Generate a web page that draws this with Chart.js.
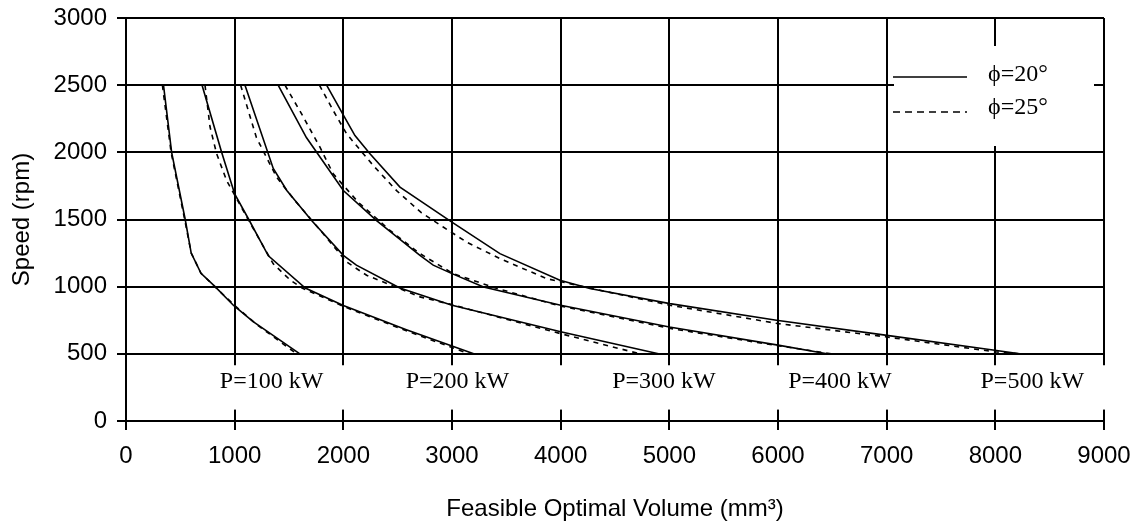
<!DOCTYPE html>
<html>
<head>
<meta charset="utf-8">
<script src="https://cdn.jsdelivr.net/npm/chart.js@4.4.1/dist/chart.umd.min.js"></script>
<style>
  html, body { margin: 0; padding: 0; background: #fff; }
  #wrap { width: 1142px; height: 531px; }
</style>
</head>
<body>
<div id="wrap"><canvas id="speedChart"></canvas></div>
<script>
// Feasible optimal volume (mm^3) vs speed (rpm)
const vol100Phi20 = [345, 420, 545, 600, 690, 820, 990, 1170, 1600];
const spd100Phi20 = [2500, 2000, 1500, 1250, 1100, 1000, 860, 740, 500];
const vol100Phi25 = [335, 415, 540, 600, 690, 830, 1000, 1200, 1570];
const spd100Phi25 = [2500, 2000, 1500, 1250, 1100, 990, 860, 720, 500];

const vol200Phi20 = [700, 880, 1000, 1130, 1310, 1650, 2000, 2580, 3200];
const spd200Phi20 = [2500, 2000, 1690, 1500, 1230, 990, 860, 680, 500];
const vol200Phi25 = [727, 773, 834, 926, 1110, 1355, 1510, 1620, 2010, 2600, 3160];
const spd200Phi25 = [2500, 2190, 1990, 1790, 1520, 1170, 1050, 990, 850, 665, 500];

const vol300Phi20 = [1095, 1355, 1480, 1710, 2000, 2120, 2520, 3000, 4000, 4900];
const spd300Phi20 = [2500, 1880, 1716, 1490, 1233, 1160, 990, 862, 664, 500];
const vol300Phi25 = [1055, 1200, 1386, 1540, 1815, 2030, 2214, 2705, 2980, 4000, 4730];
const spd300Phi25 = [2500, 2110, 1815, 1655, 1394, 1184, 1085, 924, 870, 650, 500];

const vol400Phi20 = [1400, 1660, 2000, 2306, 2705, 2827, 3000, 3290, 4000, 5000, 6000, 6450];
const spd400Phi20 = [2500, 2110, 1716, 1491, 1233, 1160, 1097, 998, 862, 700, 565, 500];
const vol400Phi25 = [1463, 1616, 1785, 1907, 2137, 2429, 2705, 3011, 3400, 4000, 5000, 6000, 6490];
const spd400Phi25 = [2500, 2286, 2038, 1840, 1629, 1419, 1246, 1097, 990, 855, 690, 560, 500];

const vol500Phi20 = [1846, 2003, 2107, 2245, 2521, 2999, 3441, 3993, 4269, 5005, 5986, 6986, 7995, 8225];
const spd500Phi20 = [2500, 2273, 2125, 1989, 1741, 1481, 1246, 1048, 986, 874, 750, 639, 527, 500];
const vol500Phi25 = [1780, 1907, 2030, 2275, 2490, 2720, 2919, 3134, 3441, 3870, 4361, 5005, 5995, 6986, 7995, 8225];
const spd500Phi25 = [2500, 2311, 2138, 1902, 1715, 1549, 1444, 1332, 1209, 1060, 973, 862, 726, 627, 515, 500];

const seriesNames = ["\u03D5=20\u00B0", "\u03D5=25\u00B0"];
const powerLabels = ["P=100 kW", "P=200 kW", "P=300 kW", "P=400 kW", "P=500 kW"];
const powerLabelVol = [1340, 3050, 4950, 6570, 8340];
const powerLabelSpeed = 290;

const sansFont = "'Liberation Sans', Arial, sans-serif";
const serifFont = "'Liberation Serif', 'Times New Roman', serif";
const dashPattern = [5, 5];

const toPoints = (xs, ys) => xs.map((x, i) => ({ x: x, y: ys[i] }));

const curves = [
  [vol100Phi20, spd100Phi20, 0], [vol100Phi25, spd100Phi25, 1],
  [vol200Phi20, spd200Phi20, 0], [vol200Phi25, spd200Phi25, 1],
  [vol300Phi20, spd300Phi20, 0], [vol300Phi25, spd300Phi25, 1],
  [vol400Phi20, spd400Phi20, 0], [vol400Phi25, spd400Phi25, 1],
  [vol500Phi20, spd500Phi20, 0], [vol500Phi25, spd500Phi25, 1],
];

const datasets = curves.map(([xs, ys, s]) => ({
  label: seriesNames[s],
  data: toPoints(xs, ys),
  showLine: true,
  borderColor: "#000",
  borderWidth: 1.6,
  borderDash: s === 1 ? dashPattern : [],
  pointRadius: 0,
  tension: 0,
}));

// white band behind the power labels, legend box and texts
const annotations = {
  id: "annotations",
  beforeDatasetsDraw(chart) {
    const { ctx, chartArea, scales } = chart;
    ctx.save();
    ctx.fillStyle = "#fff";
    const bandTop = scales.y.getPixelForValue(415);
    const bandBottom = scales.y.getPixelForValue(85);
    ctx.fillRect(chartArea.left + 1.5, bandTop, chartArea.right - chartArea.left + 1, bandBottom - bandTop);
    ctx.fillRect(chartArea.right - 210, chartArea.top + 28, 200, 100);
    ctx.restore();
  },
  afterDatasetsDraw(chart) {
    const { ctx, chartArea, scales } = chart;
    ctx.save();
    ctx.fillStyle = "#000";
    ctx.font = "24px " + serifFont;
    ctx.textAlign = "center";
    ctx.textBaseline = "middle";
    powerLabels.forEach((txt, i) => {
      ctx.fillText(txt, scales.x.getPixelForValue(powerLabelVol[i]), scales.y.getPixelForValue(powerLabelSpeed));
    });

    // legend
    ctx.strokeStyle = "#000";
    ctx.lineWidth = 1.6;
    ctx.textAlign = "left";
    seriesNames.forEach((name, i) => {
      const ly = chartArea.top + 59 + i * 35;
      ctx.setLineDash(i === 1 ? [7, 5] : []);
      ctx.beginPath();
      ctx.moveTo(chartArea.right - 211, ly);
      ctx.lineTo(chartArea.right - 137, ly);
      ctx.stroke();
      ctx.fillText(name, chartArea.right - 116, ly - 2 - i * 2);
    });
    ctx.restore();
  },
};

const plainNumber = (value) => String(value);

const speedChart = new Chart(document.getElementById("speedChart"), {
  type: "scatter",
  data: { datasets: datasets },
  options: {
    responsive: true,
    maintainAspectRatio: false,
    animation: false,
    layout: { padding: { top: 18, right: 38, left: 0, bottom: 0 } },
    plugins: {
      legend: { display: false },
      tooltip: { enabled: false },
    },
    scales: {
      x: {
        type: "linear",
        min: 0,
        max: 9000,
        afterFit: (scale) => {
          scale.height = 110;
          scale.paddingLeft = 0;
          scale.paddingRight = 0;
        },
        ticks: {
          stepSize: 1000,
          color: "#000",
          padding: 12,
          maxRotation: 0,
          callback: plainNumber,
          font: { family: sansFont, size: 24 },
        },
        grid: { color: "#000", lineWidth: 2, tickLength: 9 },
        border: { color: "#000", width: 2 },
        title: {
          display: true,
          text: "Feasible Optimal Volume (mm\u00B3)",
          color: "#000",
          padding: { top: 0, bottom: 7 },
          font: { family: sansFont, size: 24 },
        },
      },
      y: {
        min: 0,
        max: 3000,
        afterFit: (scale) => {
          scale.width = 126;
          scale.paddingTop = 0;
          scale.paddingBottom = 0;
        },
        ticks: {
          stepSize: 500,
          color: "#000",
          padding: 10,
          callback: plainNumber,
          font: { family: sansFont, size: 24 },
        },
        grid: { color: "#000", lineWidth: 2, tickLength: 9 },
        border: { color: "#000", width: 2 },
        title: {
          display: true,
          text: "Speed (rpm)",
          color: "#000",
          padding: { top: 8, bottom: 0 },
          font: { family: sansFont, size: 24 },
        },
      },
    },
  },
  plugins: [annotations],
});
</script>
</body>
</html>
